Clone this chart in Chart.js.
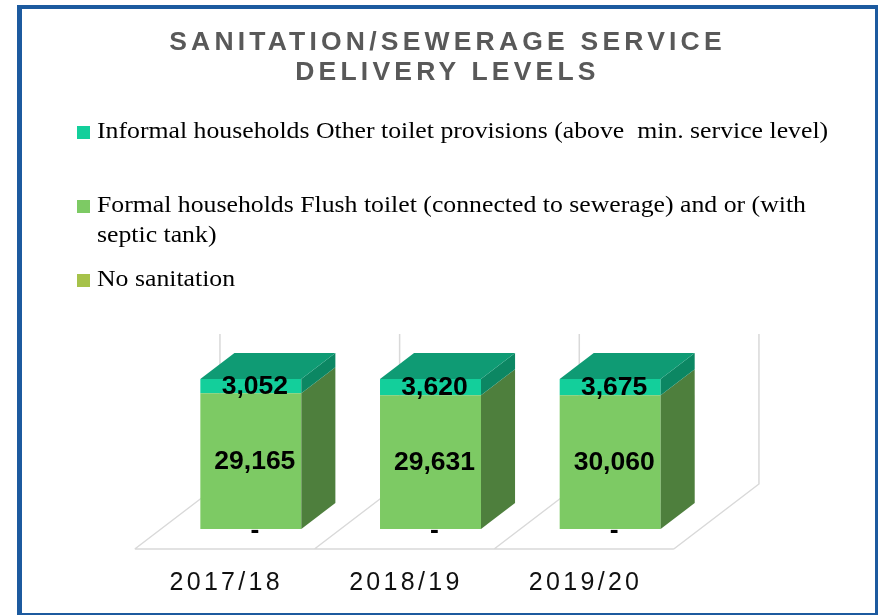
<!DOCTYPE html>
<html>
<head>
<meta charset="utf-8">
<style>
  body { margin: 0; background: #fff; }
  #wrap { position: relative; width: 878px; height: 615px; overflow: hidden; }
  #myChart { position: absolute; left: 0; top: 0; }
  #frame {
    position: absolute; left: 17px; top: 5px; width: 861px; height: 610px; box-sizing: border-box;
    border-left: 5px solid #1c5a9f; border-top: 4px solid #1c5a9f;
    border-right: 3px solid #1c5a9f; border-bottom: 2px solid #1c5a9f;
  }
  #title {
    position: absolute; left: 17px; width: 861px; top: 26px; text-align: center;
    font: bold 26.5px "Liberation Sans", Arial, sans-serif; letter-spacing: 4.2px;
    line-height: 30px; color: #595959;
  }
  .leg { position: absolute; left: 97px; font: 23px "Liberation Serif", "Times New Roman", serif;
    line-height: 30px; color: #000; white-space: pre;
    transform: scaleX(1.12); transform-origin: 0 0; }
  .box { position: absolute; left: 77px; width: 13px; height: 13px; }
</style>
</head>
<body>
<div id="wrap">
  <canvas id="myChart" width="878" height="615"></canvas>
  <div id="frame"></div>
  <div id="title">SANITATION/SEWERAGE SERVICE<br>DELIVERY LEVELS</div>
  <div id="legend"></div>
</div>

<script src="https://cdn.jsdelivr.net/npm/chart.js"></script>

<script>
  const categories = ['2017/18', '2018/19', '2019/20'];
  const informal = [3052, 3620, 3675];
  const formal = [29165, 29631, 30060];
  const noSanitation = [0, 0, 0];
  const seriesNames = [
    'Informal households Other toilet provisions (above  min. service level)',
    'Formal households Flush toilet (connected to sewerage) and or (with septic tank)',
    'No sanitation'
  ];

  // colours: front, side, top
  const colInformal = ['#13cf9b', '#0c8763', '#0f9b74'];
  const colFormal = ['#7dca64', '#4e7f3d', '#5d9a48'];
  const colNone = ['#a6c24a', '#6f8530', '#8aa23c'];

  // html legend, same order as the reference
  const legendEl = document.getElementById('legend');
  const legTops = [116, 190, 264];
  [[seriesNames[0], colInformal[0]], [seriesNames[1], colFormal[0]], [seriesNames[2], colNone[0]]].forEach((it, i) => {
    const box = document.createElement('div');
    box.className = 'box';
    box.style.top = (legTops[i] + 10) + 'px';
    box.style.background = it[1];
    legendEl.appendChild(box);
    const t = document.createElement('div');
    t.className = 'leg';
    t.style.top = legTops[i] + 'px';
    // the long name wraps before "septic" in the reference
    t.textContent = it[0].replace(' (with septic', ' (with\nseptic');
    legendEl.appendChild(t);
  });

  // 100% stacked: shares of the yearly total
  const totals = categories.map((c, i) => informal[i] + formal[i] + noSanitation[i]);
  const share = arr => arr.map((v, i) => v / totals[i] * 100);

  const K = 1.31;        // dx per dy of the oblique view
  const BAR_DY = 26;     // depth of a bar
  const FRONT_DY = 20;   // floor front edge below the bars
  const BACK_DY = 45;    // back wall behind the bars

  const threeD = {
    id: 'threeD',
    beforeDatasetsDraw(chart) {
      const {ctx, chartArea: a, scales: {x}} = chart;
      const half = (x.getPixelForValue(1) - x.getPixelForValue(0)) / 2;
      const edges = [x.getPixelForValue(0) - half];
      categories.forEach((c, i) => edges.push(x.getPixelForValue(i) + half));
      ctx.save();
      ctx.strokeStyle = '#d9d9d9';
      ctx.lineWidth = 1.5;
      ctx.beginPath();
      const fy = a.bottom + FRONT_DY, by = a.bottom - BACK_DY;
      ctx.moveTo(edges[0] - FRONT_DY * K, fy);
      ctx.lineTo(edges[edges.length - 1] - FRONT_DY * K, fy);
      edges.forEach(e => {
        ctx.moveTo(e - FRONT_DY * K, fy);
        ctx.lineTo(e + BACK_DY * K, by);
        ctx.lineTo(e + BACK_DY * K, a.top - BACK_DY);
      });
      ctx.stroke();
      ctx.restore();
    },
    afterDatasetsDraw(chart) {
      const ctx = chart.ctx;
      const dx = BAR_DY * K, dy = -BAR_DY;
      const n = chart.data.datasets.length;
      chart.data.datasets.forEach((ds, di) => {
        chart.getDatasetMeta(di).data.forEach((bar) => {
          const {x, y, base, width} = bar.getProps(['x', 'y', 'base', 'width'], true);
          const l = x - width / 2, r = x + width / 2;
          ctx.fillStyle = ds.sideColor;
          ctx.beginPath();
          ctx.moveTo(r, y); ctx.lineTo(r + dx, y + dy);
          ctx.lineTo(r + dx, base + dy); ctx.lineTo(r, base);
          ctx.closePath(); ctx.fill();
          if (di === n - 1) {
            ctx.fillStyle = ds.topColor;
            ctx.beginPath();
            ctx.moveTo(l, y); ctx.lineTo(l + dx, y + dy);
            ctx.lineTo(r + dx, y + dy); ctx.lineTo(r, y);
            ctx.closePath(); ctx.fill();
          }
        });
      });
      // data labels with the real values
      ctx.save();
      ctx.letterSpacing = '0px';
      ctx.font = 'bold 26.5px "Liberation Sans", Arial, sans-serif';
      ctx.fillStyle = '#000';
      ctx.textAlign = 'center';
      ctx.textBaseline = 'middle';
      chart.data.datasets.forEach((ds, di) => {
        chart.getDatasetMeta(di).data.forEach((bar, i) => {
          const {x, y, base} = bar.getProps(['x', 'y', 'base'], true);
          const v = ds.raw[i];
          if (v === 0) ctx.fillText('-', x + 4, base + 2);
          else ctx.fillText(v.toLocaleString('en-US'), x + 4, (y + base) / 2 + 1);
        });
      });
      ctx.restore();
    },
    afterDraw(chart) {
      const {ctx, chartArea: a, scales: {x}} = chart;
      ctx.save();
      ctx.font = '25px "Liberation Sans", Arial, sans-serif';
      ctx.letterSpacing = '3.3px';
      ctx.fillStyle = '#111';
      ctx.textAlign = 'center';
      ctx.textBaseline = 'alphabetic';
      categories.forEach((c, i) => {
        ctx.fillText(c, x.getPixelForValue(i) - FRONT_DY * K + 1.6, a.bottom + 61);
      });
      ctx.restore();
    }
  };

  const ctx = document.getElementById('myChart');
  new Chart(ctx, {
    type: 'bar',
    data: {
      labels: categories,
      datasets: [
        { label: seriesNames[2], data: share(noSanitation), raw: noSanitation,
          backgroundColor: colNone[0], sideColor: colNone[1], topColor: colNone[2] },
        { label: seriesNames[1], data: share(formal), raw: formal,
          backgroundColor: colFormal[0], sideColor: colFormal[1], topColor: colFormal[2] },
        { label: seriesNames[0], data: share(informal), raw: informal,
          backgroundColor: colInformal[0], sideColor: colInformal[1], topColor: colInformal[2] }
      ]
    },
    options: {
      responsive: false,
      animation: false,
      devicePixelRatio: 1,
      layout: { padding: { left: 161, right: 178, top: 379, bottom: 86 } },
      datasets: { bar: { categoryPercentage: 0.562, barPercentage: 1, borderWidth: 0 } },
      scales: {
        x: { display: false, stacked: true },
        y: { display: false, stacked: true, min: 0, max: 100 }
      },
      plugins: { legend: { display: false }, title: { display: false }, tooltip: { enabled: false } }
    },
    plugins: [threeD]
  });
</script>
</body>
</html>
